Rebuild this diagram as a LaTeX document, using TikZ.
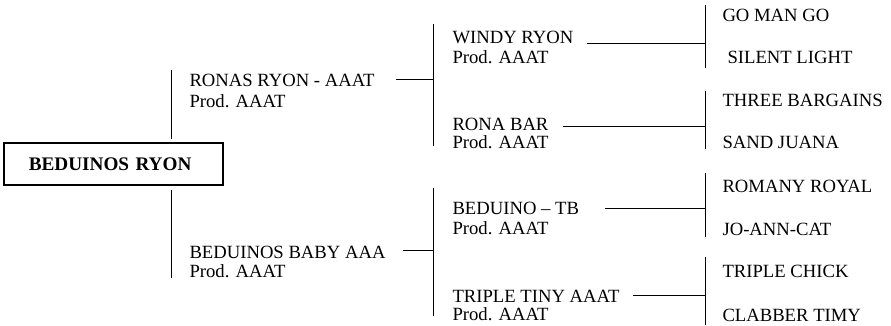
\documentclass[tikz,border=0pt]{standalone}
\usepackage{fontspec}
\setmainfont{Liberation Serif}

\tikzset{every picture/.style={line width=0.75pt}}
\tikzset{horse/.style={anchor=base west,inner sep=0pt,font=\fontsize{14}{16}\selectfont}}

\begin{document}
\begin{tikzpicture}[x=0.75pt,y=0.75pt,yscale=-1,xscale=1]
	\useasboundingbox (0,0) rectangle (891,325);

	%Shape: Rectangle [id:root]
	\node (br) [draw, line width=1.5, minimum height=31.5pt, inner xsep=18.5pt, inner ysep=0pt, text width=127pt, align=left, font=\fontsize{14.4}{16}\selectfont\bfseries] at (113.5,164) {BEDUINOS RYON};

	% Text Node
	\node (rr) [horse] at (189,86) {RONAS RYON - AAAT};
	\node (rr-p) [horse] at (189,107) {Prod. AAAT};
	% Text Node
	\node (bb) [horse] at (189,258) {BEDUINOS BABY AAA};
	\node (bb-p) [horse] at (189,277) {Prod. AAAT};
	% Text Node
	\node (wr) [horse] at (452,43) {WINDY RYON};
	\node (wr-p) [horse] at (452,63) {Prod. AAAT};
	% Text Node
	\node (rb) [horse] at (452,130) {RONA BAR};
	\node (rb-p) [horse] at (452,148) {Prod. AAAT};
	% Text Node
	\node (bt) [horse] at (452,214) {BEDUINO -- TB};
	\node (bt-p) [horse] at (452,234) {Prod. AAAT};
	% Text Node
	\node (tt) [horse] at (452,302) {TRIPLE TINY AAAT};
	\node (tt-p) [horse] at (452,320) {Prod. AAAT};
	% Text Node
	\node (gmg) [horse] at (722,21) {GO MAN GO};
	\node (sl) [horse] at (727,63) {SILENT LIGHT};
	\node (tb) [horse] at (722,106) {THREE BARGAINS};
	\node (sj) [horse] at (722,148) {SAND JUANA};
	\node (ry) [horse] at (722,192) {ROMANY ROYAL};
	\node (jac) [horse] at (722,235) {JO-ANN-CAT};
	\node (tc) [horse] at (722,277) {TRIPLE CHICK};
	\node (ct) [horse] at (722,321) {CLABBER TIMY};

	% bar ends
	\coordinate (b0-t) at (171,70);   \coordinate (b0-u) at (171,139);
	\coordinate (b0-d) at (171,190);  \coordinate (b0-b) at (171,278);
	\coordinate (b1-t) at (433,24);   \coordinate (b1-b) at (433,146);
	\coordinate (b2-t) at (433,188);  \coordinate (b2-b) at (433,316);
	\coordinate (b3-t) at (705,5);    \coordinate (b3-b) at (705,68);
	\coordinate (b4-t) at (705,91);   \coordinate (b4-b) at (705,149);
	\coordinate (b5-t) at (705,173);  \coordinate (b5-b) at (705,237);
	\coordinate (b6-t) at (705,257);  \coordinate (b6-b) at (705,325);
	% stub ends
	\coordinate (rr-s) at (396,79);   \coordinate (rr-e) at (433,79);
	\coordinate (bb-s) at (403,250);  \coordinate (bb-e) at (433,250);
	\coordinate (wr-s) at (587,43);   \coordinate (wr-e) at (705,43);
	\coordinate (rb-s) at (563,126);  \coordinate (rb-e) at (705,126);
	\coordinate (bt-s) at (605,208);  \coordinate (bt-e) at (705,208);
	\coordinate (tt-s) at (633,295);  \coordinate (tt-e) at (705,295);

	%Straight Lines
	\draw (b0-t) -- (b0-u);
	\draw (b0-d) -- (b0-b);
	\foreach \b in {1,...,6}
		\draw (b\b-t) -- (b\b-b);
	%Straight Lines
	\foreach \h in {rr,bb,wr,rb,bt,tt}
		\draw (\h-s) -- (\h-e);

\end{tikzpicture}
\end{document}
